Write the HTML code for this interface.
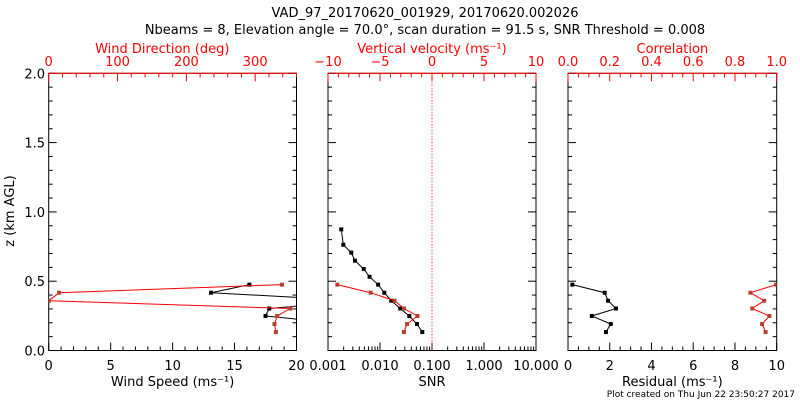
<!DOCTYPE html>
<html><head><meta charset="utf-8"><style>
body{margin:0;background:#fff}
svg{display:block;font-family:"DejaVu Sans","Liberation Sans",sans-serif}
</style></head><body>
<svg id="c" width="800" height="400" xmlns="http://www.w3.org/2000/svg">
<text x="425" y="17" font-size="13" text-anchor="middle">VAD_97_20170620_001929, 20170620.002026</text>
<text x="425" y="34" font-size="13" text-anchor="middle">Nbeams = 8, Elevation angle = 70.0°, scan duration = 91.5 s, SNR Threshold = 0.008</text>
<text x="795" y="397" font-size="9" text-anchor="end">Plot created on Thu Jun 22 23:50:27 2017</text>
<text transform="translate(14,211) rotate(-90)" font-size="13" text-anchor="middle">z (km AGL)</text>
</svg>
<script>
const zLevels=[0.475,0.417,0.359,0.303,0.249,0.191];
const windSpeed=[16.2,13.1,25,17.8,17.5,24];
const zDir=[0.475,0.417,0.359,0.303,0.249,0.191,0.133];
const windDir=[339,15,0.5,351,332,328,330];
const zSnr=[0.874,0.763,0.706,0.648,0.588,0.532,0.475,0.417,0.359,0.303,0.249,0.191,0.133];
const snr=[0.0018,0.00197,0.0028,0.0033,0.00486,0.0063,0.0092,0.0121,0.0165,0.0245,0.0366,0.0515,0.065];
const zW=[0.475,0.417,0.359,0.303,0.249,0.191,0.133];
const wVel=[-9.1,-5.9,-3.6,-2.7,-1.4,-2.4,-2.7];
const zRes=[0.475,0.417,0.359,0.303,0.249,0.191,0.133];
const residual=[0.21,1.76,1.92,2.3,1.14,2.05,1.82];
const correlation=[0.997,0.874,0.94,0.883,0.965,0.93,0.947];
const yTicks=["0.0","0.5","1.0","1.5","2.0"];
const speedTicks=["0","5","10","15","20"];
const dirTicks=["0","100","200","300"];
const snrTicks=["0.001","0.010","0.100","1.000","10.000"];
const wTicks=["\u221210","\u22125","0","5","10"];
const resTicks=["0","2","4","6","8","10"];
const corTicks=["0.0","0.2","0.4","0.6","0.8","1.0"];

const svg=document.getElementById('c');const NS="http://www.w3.org/2000/svg";
const Y0=350.5,Y1=73.3;
const yS=z=>Y0-(Y0-Y1)*z/2;
function el(t,a,p){const e=document.createElementNS(NS,t);for(const k in a)e.setAttribute(k,a[k]);(p||svg).appendChild(e);return e;}
function txt(x,y,s,fill,size,name){const e=el('text',{x:x,y:y,'font-size':size||12,'text-anchor':'middle',fill:fill||'#000'});e.textContent=s;


return e;}
function panel(x0,x1,name,showY){
 const g=el('g',{});
 
 
 el('rect',{x:x0,y:Y1,width:x1-x0,height:Y0-Y1,fill:'none',stroke:'#000','stroke-width':1},g);
 for(let i=0;i<=20;i++){const y=yS(i*0.1);const L=i%5==0?8:4;
  el('line',{x1:x0,x2:x0+L,y1:y,y2:y,stroke:'#000'},g);el('line',{x1:x1,x2:x1-L,y1:y,y2:y,stroke:'#000'},g);}
 if(showY)yTicks.forEach((t,i)=>txt(x0-14,yS(i*0.5)+5,t,'#000',13,'y-tick-label'));
 return g;}
function xaxis(g,x0,x1,n,minor,labels,top,col,logm){
 const y=top?Y1:Y0,d=top?1:-1;
 for(let i=0;i<n;i++){
  const a=x0+(x1-x0)*i/(n-1);
  el('line',{x1:a,x2:a,y1:y,y2:y+d*8,stroke:col},g);
  if(i<n-1){
   if(logm){for(let k=2;k<10;k++){const b=a+(x1-x0)/(n-1)*Math.log10(k);el('line',{x1:b,x2:b,y1:y,y2:y+d*4,stroke:col},g);}}
   else for(let k=1;k<minor;k++){const b=a+(x1-x0)/(n-1)*k/minor;el('line',{x1:b,x2:b,y1:y,y2:y+d*4,stroke:col},g);}
  }
 }
}
function series(g,xs,zs,xf,lc,mc,name,clip){
 const pts=xs.map((v,i)=>[xf(v),yS(zs[i])]);
 const pl=el('polyline',{points:pts.map(p=>p.join(',')).join(' '),fill:'none',stroke:lc,'stroke-width':1,'clip-path':clip},g);
 
 
 pts.forEach(p=>{const r=el('rect',{x:p[0]-2,y:p[1]-2,width:4,height:4,fill:mc,'clip-path':clip},g);
  
  });
}
const defs=el('defs',{});
[[48.7,296.5,'c1'],[328,536,'c2'],[568,776.7,'c3']].forEach(c=>{const cp=el('clipPath',{id:c[2]},defs);el('rect',{x:c[0],y:Y1,width:c[1]-c[0],height:Y0-Y1},cp);});
const RED='#ff0000',MK='#b8402e';
let A=48.7,B=296.5;let g=panel(A,B,'wind-panel',true);
el('line',{x1:A,x2:B,y1:Y1,y2:Y1,stroke:RED},g);
xaxis(g,A,B,5,5,speedTicks,false,'#000');
speedTicks.forEach((t,i)=>txt(A+(B-A)*i/4,370,t,'#000',13,'x-tick-label'));
txt((A+B)/2,386,'Wind Speed (ms\u207B\u00B9)','#000',13,'wind-speed-axis-title');
const dx=v=>A+(B-A)*v/360;
for(let v=0;v<=360;v+=20){el('line',{x1:dx(v),x2:dx(v),y1:Y1,y2:Y1+(v%100==0?8:4),stroke:RED},g);}
dirTicks.forEach((t,i)=>txt(dx(i*100),66,t,RED,13,'wind-direction-tick-label'));
txt(dx(165),53,'Wind Direction (deg)',RED,13,'wind-direction-axis-title');
series(g,windSpeed,zLevels,v=>A+(B-A)*v/20,'#000','#000','wind-speed','url(#c1)');
series(g,windDir,zDir,dx,RED,MK,'wind-direction','url(#c1)');
A=328;B=536;g=panel(A,B,'snr-panel',false);
el('line',{x1:A,x2:B,y1:Y1,y2:Y1,stroke:RED},g);
xaxis(g,A,B,5,0,snrTicks,false,'#000',true);
snrTicks.forEach((t,i)=>txt(A+(B-A)*i/4,370,t,'#000',13,'snr-tick-label'));
txt((A+B)/2,386,'SNR','#000',13,'snr-axis-title');
xaxis(g,A,B,5,5,wTicks,true,RED);
wTicks.forEach((t,i)=>txt(A+(B-A)*i/4,66,t,RED,13,'vertical-velocity-tick-label'));
txt((A+B)/2,53,'Vertical velocity (ms\u207B\u00B9)',RED,13,'vertical-velocity-axis-title');
const wx=v=>A+(B-A)*(v+10)/20;
el('line',{x1:wx(0),x2:wx(0),y1:Y1,y2:Y0,stroke:RED,'stroke-dasharray':'1,2'},g);
series(g,snr,zSnr,v=>A+(B-A)*(Math.log10(v)+3)/4,'#000','#000','snr','url(#c2)');
series(g,wVel,zW,wx,RED,MK,'vertical-velocity','url(#c2)');
A=568;B=776.7;g=panel(A,B,'residual-panel',false);
el('line',{x1:A,x2:B,y1:Y1,y2:Y1,stroke:RED},g);
xaxis(g,A,B,6,4,resTicks,false,'#000');
resTicks.forEach((t,i)=>txt(A+(B-A)*i/5,370,t,'#000',13,'residual-tick-label'));
txt((A+B)/2,386,'Residual (ms\u207B\u00B9)','#000',13,'residual-axis-title');
xaxis(g,A,B,6,4,corTicks,true,RED);
corTicks.forEach((t,i)=>txt(A+(B-A)*i/5,66,t,RED,13,'correlation-tick-label'));
txt((A+B)/2,53,'Correlation',RED,13,'correlation-axis-title');
series(g,residual,zRes,v=>A+(B-A)*v/10,'#000','#000','residual','url(#c3)');
series(g,correlation,zRes,v=>A+(B-A)*v,RED,MK,'correlation','url(#c3)');
</script>
</body></html>
